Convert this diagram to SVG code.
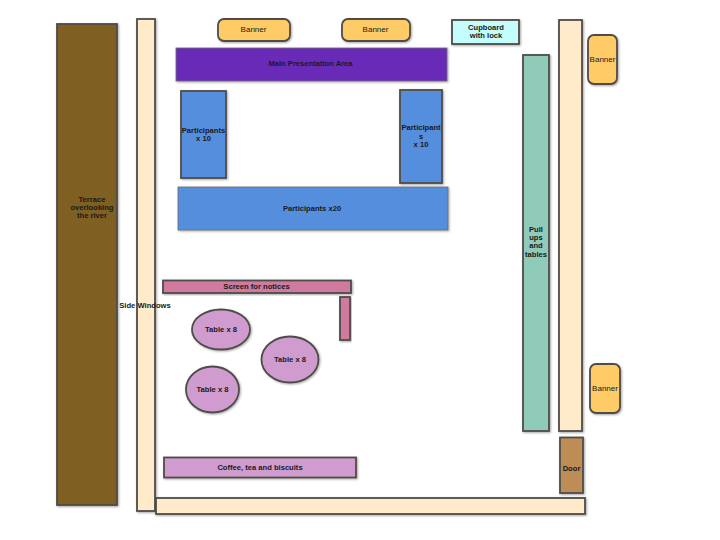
<svg xmlns="http://www.w3.org/2000/svg" width="720" height="540" viewBox="0 0 720 540">
<style>
.s{stroke:#504c48;stroke-width:1.8;filter:url(#sh)}
.t{stroke:#6a6a6a;stroke-width:.8;filter:url(#sh)}
text{font-family:"Liberation Sans",Arial,sans-serif;font-size:7.600px;font-weight:bold;fill:#1a1a1a;text-anchor:middle}
text.n{font-weight:normal;font-size:8px}
.wall{fill:#ffeaca}.ban{fill:#fecb66}.blue{fill:#578ede}.pink{fill:#cf7a9e}.lil{fill:#d09ccf}
</style>
<defs>
<filter id="sh" x="-20%" y="-20%" width="140%" height="140%"><feDropShadow dx="1" dy="1" stdDeviation="1" flood-color="#000" flood-opacity=".35"/></filter>
</defs>
<rect width="720" height="540" fill="#fff"/>
<g id="connectors"></g>
<g id="terrace"><rect class="s" x="57" y="24" width="60" height="481" fill="#7f5e21"/><text x="92" y="202">Terrace</text><text x="92" y="210">overlooking</text><text x="92" y="218">the river</text></g>
<g id="side-windows"><rect class="s wall" x="137" y="19" width="18" height="492"/><text x="145" y="308">Side Windows</text></g>
<g id="banner-1"><rect class="s ban" x="218" y="19" width="72" height="22" rx="6"/><text class="n" x="253.500" y="32">Banner</text></g>
<g id="banner-2"><rect class="s ban" x="342" y="19" width="68" height="22" rx="6"/><text class="n" x="375.500" y="32">Banner</text></g>
<g id="cupboard"><rect class="s" x="452" y="20" width="67" height="24" fill="#c3fdfc"/><text x="486" y="30">Cupboard</text><text x="486" y="38">with lock</text></g>
<g id="presentation"><rect class="t" x="176" y="48" width="271" height="33" fill="#6b2cb8"/><text x="310.500" y="66">Main Presentation Area</text></g>
<g id="participants-left"><rect class="s blue" x="181" y="91" width="45" height="87"/><text x="203.500" y="133">Participants</text><text x="203.500" y="141">x 10</text></g>
<g id="participants-right"><rect class="s blue" x="400" y="90" width="42" height="93"/><text x="421" y="130">Participant</text><text x="421" y="139">s</text><text x="421" y="147">x 10</text></g>
<g id="participants-20"><rect class="t blue" x="178" y="187" width="270" height="43"/><text x="312" y="211">Participants x20</text></g>
<g id="pull-ups"><rect class="s" x="523" y="55" width="26" height="376" fill="#90cbb9"/><text x="536" y="232">Pull</text><text x="536" y="240">ups</text><text x="536" y="248">and</text><text x="536" y="257">tables</text></g>
<g id="right-wall"><rect class="s wall" x="559" y="20" width="23" height="411"/></g>
<g id="banner-3"><rect class="s ban" x="588" y="35" width="29" height="49" rx="6"/><text class="n" x="602.500" y="62">Banner</text></g>
<g id="banner-4"><rect class="s ban" x="590" y="364" width="30" height="49" rx="6"/><text class="n" x="605" y="391">Banner</text></g>
<g id="door"><rect class="s" x="560" y="437.500" width="23" height="55.500" fill="#bd8d55"/><text x="571.500" y="471">Door</text></g>
<g id="bottom-wall"><rect class="s wall" x="156" y="498" width="429" height="16"/></g>
<g id="screen"><rect class="s pink" x="163" y="280.500" width="188" height="12.500"/><text x="256.500" y="288.500">Screen for notices</text></g>
<g id="screen-side"><rect class="s pink" x="340" y="297" width="10" height="43"/></g>
<g id="table-1"><ellipse class="s lil" cx="221" cy="329.500" rx="29" ry="20"/><text x="221" y="331.500">Table x 8</text></g>
<g id="table-2"><ellipse class="s lil" cx="290" cy="359.500" rx="28.500" ry="23"/><text x="290" y="362">Table x 8</text></g>
<g id="table-3"><ellipse class="s lil" cx="212.500" cy="389.500" rx="26.500" ry="23"/><text x="212.500" y="392">Table x 8</text></g>
<g id="coffee"><rect class="s lil" x="164" y="457.500" width="192" height="20"/><text x="260" y="469.500">Coffee, tea and biscuits</text></g>
</svg>
